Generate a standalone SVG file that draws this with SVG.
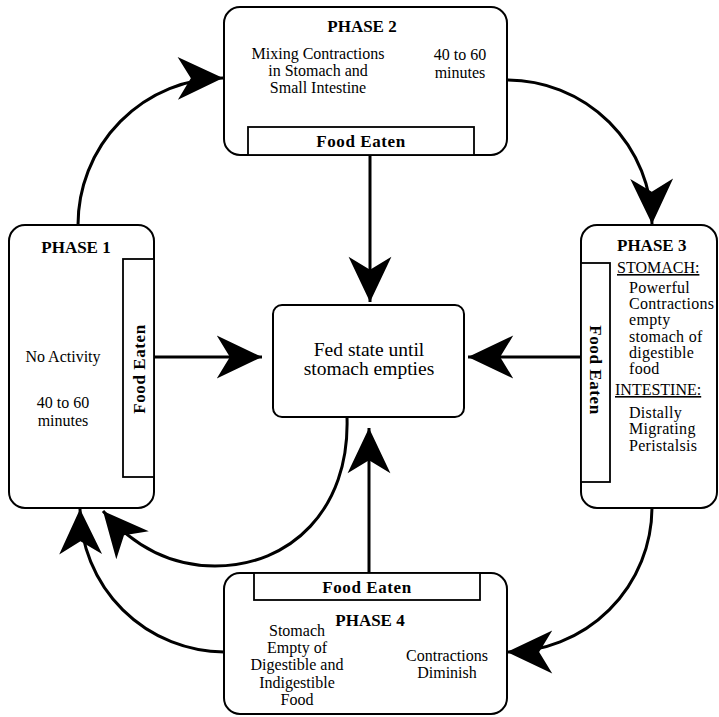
<svg xmlns="http://www.w3.org/2000/svg" width="719" height="717" viewBox="0 0 719 717">
<defs>
<style>
.box{fill:#fff;stroke:#000;stroke-width:2}
.bar{fill:#fff;stroke:#000;stroke-width:1.8}
.t{font-family:"Liberation Serif","Times New Roman",serif;font-size:16px;fill:#000}
.ph{font-family:"Liberation Serif","Times New Roman",serif;font-size:17px;font-weight:bold;fill:#000}
.fe{font-family:"Liberation Serif","Times New Roman",serif;font-size:17px;font-weight:bold;letter-spacing:0.6px;fill:#000}
.c{text-anchor:middle}
.con{fill:none;stroke:#000;stroke-width:3}
</style>
<marker id="ah" markerUnits="userSpaceOnUse" markerWidth="50" markerHeight="50" viewBox="-40 -20 42 40" refX="0" refY="0" orient="auto">
<path d="M0,0 L-38,-18 L-27,0 L-38,18 Z" fill="#000"/>
</marker>
</defs>
<rect width="719" height="717" fill="#fff"/>

<g id="connectors">
<path class="con" d="M370,155 L370,302" marker-end="url(#ah)"/>
<path class="con" d="M369,573 L369,428" marker-end="url(#ah)"/>
<path class="con" d="M154,357 L262,357" marker-end="url(#ah)"/>
<path class="con" d="M581,357 L468,357" marker-end="url(#ah)"/>
<path class="con" d="M78,225 A146,147 0 0 1 223,78" marker-end="url(#ah)"/>
<path class="con" d="M507,80 A145,145 0 0 1 652,224" marker-end="url(#ah)"/>
<path class="con" d="M652,508 A145,145 0 0 1 507,652" marker-end="url(#ah)"/>
<path class="con" d="M224,652 A145,145 0 0 1 80,509" marker-end="url(#ah)"/>
<path class="con" d="M347,417 C350,510 290,566 215,566 C165,566 128,540 103,511" marker-end="url(#ah)"/>
</g>

<g id="phase2">
<rect class="box" x="224" y="7" width="283" height="148" rx="16"/>
<rect class="bar" x="248" y="127" width="226" height="28"/>
<text class="ph c" x="362" y="32">PHASE 2</text>
<text class="t c" x="318" y="59">Mixing Contractions</text>
<text class="t c" x="318" y="76">in Stomach and</text>
<text class="t c" x="318" y="93">Small Intestine</text>
<text class="t c" x="460" y="60">40 to 60</text>
<text class="t c" x="460" y="78">minutes</text>
<text class="fe c" x="361" y="147">Food Eaten</text>
</g>

<g id="phase1">
<rect class="box" x="9" y="225" width="145" height="283" rx="16"/>
<rect class="bar" x="123" y="259" width="31" height="218"/>
<text class="ph c" x="76" y="253">PHASE 1</text>
<text class="t c" x="63" y="362">No Activity</text>
<text class="t c" x="63" y="408">40 to 60</text>
<text class="t c" x="63" y="426">minutes</text>
<text class="fe c" transform="translate(145,369) rotate(-90)">Food Eaten</text>
</g>

<g id="phase3">
<rect class="box" x="581" y="225" width="136" height="283" rx="16"/>
<rect class="bar" x="581" y="263" width="29" height="219"/>
<text class="ph" x="617" y="251">PHASE 3</text>
<text class="t" x="617" y="273" text-decoration="underline">STOMACH:</text>
<text class="t" x="629" y="293" letter-spacing="0.3">Powerful</text>
<text class="t" x="629" y="309" letter-spacing="0.3">Contractions</text>
<text class="t" x="629" y="325" letter-spacing="0.3">empty</text>
<text class="t" x="629" y="342" letter-spacing="0.3">stomach of</text>
<text class="t" x="629" y="358" letter-spacing="0.3">digestible</text>
<text class="t" x="629" y="374" letter-spacing="0.3">food</text>
<text class="t" x="615" y="395" text-decoration="underline">INTESTINE:</text>
<text class="t" x="629" y="418" letter-spacing="0.3">Distally</text>
<text class="t" x="629" y="434" letter-spacing="0.3">Migrating</text>
<text class="t" x="629" y="451" letter-spacing="0.3">Peristalsis</text>
<text class="fe c" transform="translate(590,370) rotate(90)">Food Eaten</text>
</g>

<g id="phase4">
<rect class="box" x="224" y="573" width="283" height="141" rx="16"/>
<rect class="bar" x="254" y="573" width="226" height="27"/>
<text class="fe c" x="367" y="593">Food Eaten</text>
<text class="ph c" x="370" y="626">PHASE 4</text>
<text class="t c" x="297" y="636">Stomach</text>
<text class="t c" x="297" y="653">Empty of</text>
<text class="t c" x="297" y="670">Digestible and</text>
<text class="t c" x="297" y="688">Indigestible</text>
<text class="t c" x="297" y="705">Food</text>
<text class="t c" x="447" y="661">Contractions</text>
<text class="t c" x="447" y="678">Diminish</text>
</g>

<g id="center">
<rect class="box" x="273" y="305" width="191" height="112" rx="9"/>
<text class="t c" x="369" y="356" style="font-size:19.5px">Fed state until</text>
<text class="t c" x="369" y="375" style="font-size:19.5px">stomach empties</text>
</g>
</svg>
